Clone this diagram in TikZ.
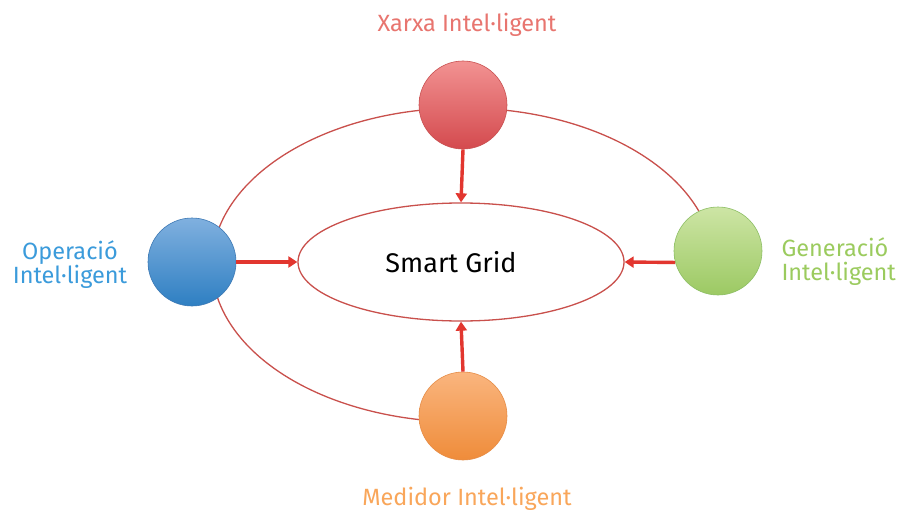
\documentclass[tikz,border=0pt]{standalone}
\usepackage{fontspec}
\setmainfont{Fira Sans}
\usetikzlibrary{shapes.geometric,arrows.meta}

\definecolor{ringred}{HTML}{C9504C}
\definecolor{arrowred}{HTML}{E2362F}
\definecolor{txtred}{HTML}{E8756F}
\definecolor{txtblue}{HTML}{3B9BDB}
\definecolor{txtgreen}{HTML}{9BCB5E}
\definecolor{txtorange}{HTML}{F9A65A}

\tikzset{
  ball/.style={circle, minimum size=88pt, inner sep=0pt, line width=0.6pt},
  ring/.style={draw=ringred, line width=1.3pt},
  feed/.style={draw=arrowred, line width=3.4pt,
    -{Triangle[length=9pt,width=11pt]}},
  lbl/.style={font=\fontsize{23.5}{24}\selectfont, align=center},
}

\begin{document}
\begin{tikzpicture}[x=1pt, y=-1pt]
  \useasboundingbox[fill=white] (0,0) rectangle (904,516);

  % outer ring linking the four components (open between meter and generation)
  \draw[ring] (463,265) ++(0:251 and 157)
    arc[start angle=0, end angle=-280, x radius=251, y radius=157];

  % central concept (title sits a little left of centre)
  \node[ellipse, ring, fill=white, minimum width=326pt, minimum height=118pt,
        font=\fontsize{27}{30}\selectfont] (grid) at (461,262) {Smart Grid\hspace*{20pt}};

  % the four components
  \node[ball, draw={rgb,255:red,200;green,80;blue,80},
        top color={rgb,255:red,242;green,146;blue,146},
        bottom color={rgb,255:red,212;green,74;blue,78}] (xarxa) at (463,105) {};
  \node[ball, draw={rgb,255:red,60;green,120;blue,180},
        top color={rgb,255:red,128;green,176;blue,223},
        bottom color={rgb,255:red,46;green,127;blue,194}] (oper) at (192,262) {};
  \node[ball, draw={rgb,255:red,140;green,190;blue,100},
        top color={rgb,255:red,205;green,229;blue,165},
        bottom color={rgb,255:red,156;green,201;blue,99}] (gen) at (718,251) {};
  \node[ball, draw={rgb,255:red,230;green,140;blue,70},
        top color={rgb,255:red,250;green,181;blue,126},
        bottom color={rgb,255:red,239;green,140;blue,58}] (med) at (463,416) {};

  % feeds into the smart grid
  \draw[feed] (xarxa.south) -- (grid.north);
  \draw[feed] (oper.east) -- (grid.west);
  \draw[feed] (gen.195) -- (grid.east);
  \draw[feed] (med.north) -- (grid.south);

  % captions
  \node[lbl, text=txtred] (tx) at (467,25) {Xarxa Intel·ligent};
  \node[lbl, text=txtorange] (tm) at (467,499) {Medidor Intel·ligent};
  \node[lbl, text=txtblue] (to) at (70,265) {Operació\\Intel·ligent};
  \node[lbl, text=txtgreen, align=left, anchor=west] (tg) at (778,262) {Generació\\Intel·ligent};
\end{tikzpicture}
\end{document}
